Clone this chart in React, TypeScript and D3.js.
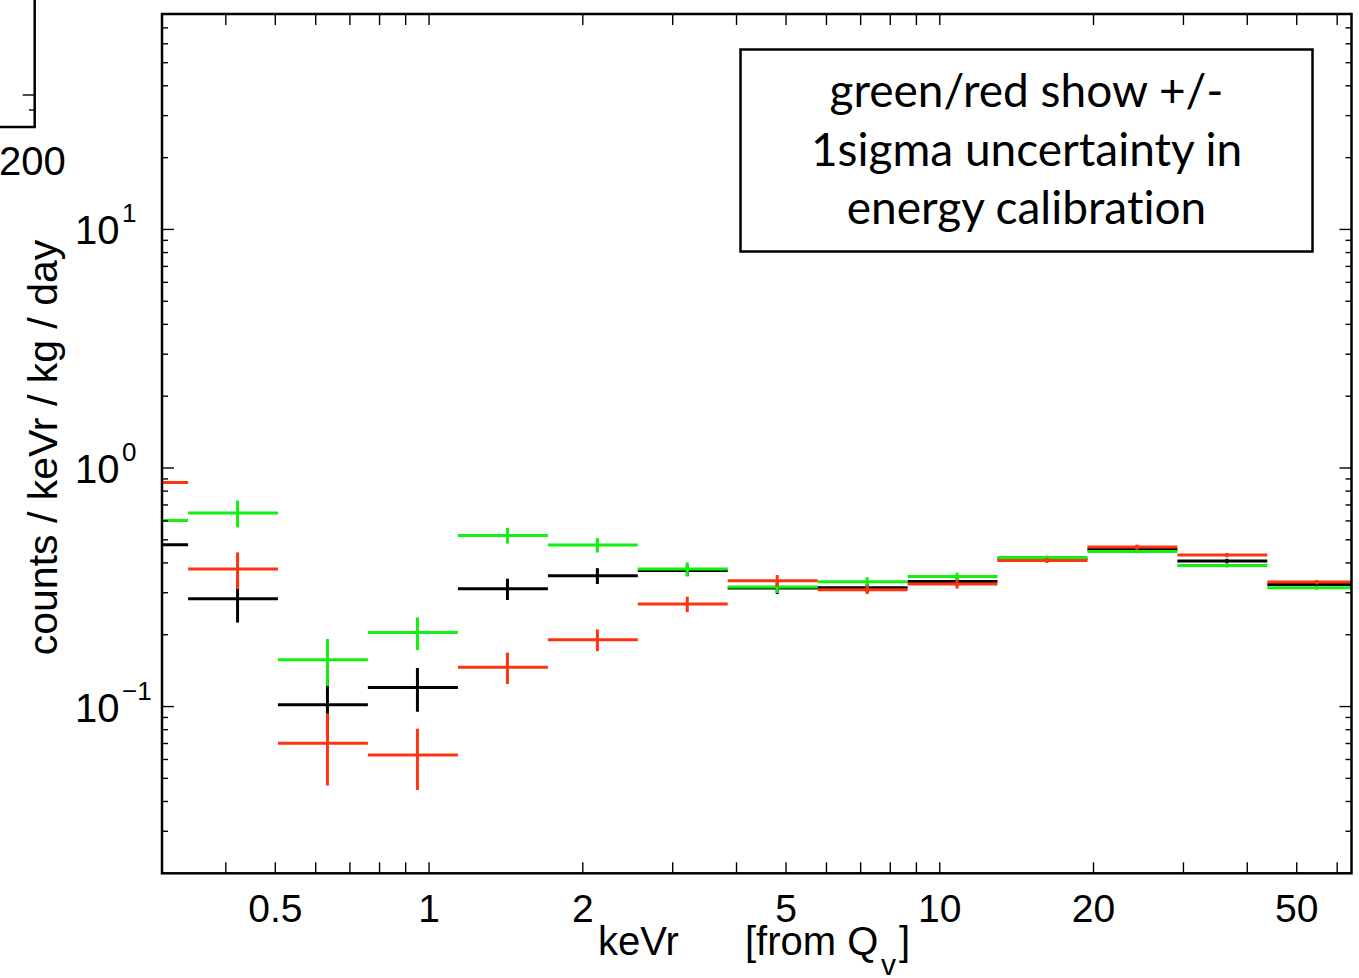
import React from "react";
import * as d3 from "d3";

// Recoil-energy bins (keVr), geometric with ratio 1.5
const binEdges = [0.225, 0.3375, 0.506, 0.759, 1.139, 1.709, 2.563, 3.844, 5.767, 8.65, 12.97, 19.46, 29.19, 43.79, 65.68];

// Nominal energy calibration
const blackRate = [0.477, 0.283, 0.1017, 0.1201, 0.3116, 0.3533, 0.372, 0.3142, 0.3146, 0.3344, 0.4155, 0.4557, 0.4074, 0.3249];
const blackErr = [0.08, 0.058, 0.0277, 0.025, 0.032, 0.027, 0.02, 0.018, 0.014, 0.013, 0.009, 0.009, 0.009, 0.006];
// +1 sigma calibration
const greenRate = [0.603, 0.647, 0.157, 0.2044, 0.5217, 0.4754, 0.377, 0.3168, 0.3336, 0.351, 0.4217, 0.4469, 0.3904, 0.3147];
const greenErr = [0.1, 0.084, 0.035, 0.032, 0.04, 0.033, 0.025, 0.018, 0.015, 0.013, 0.008, 0.008, 0.008, 0.006];
// -1 sigma calibration
const redRate = [0.87, 0.377, 0.0702, 0.0627, 0.1463, 0.1905, 0.2688, 0.337, 0.3088, 0.3262, 0.4097, 0.4662, 0.4315, 0.3325];
const redErr = [0.12, 0.066, 0.0235, 0.018, 0.022, 0.02, 0.02, 0.019, 0.0125, 0.014, 0.01, 0.011, 0.009, 0.007];

const xTickValues = [0.4, 0.5, 0.6, 0.7, 0.8, 0.9, 1, 2, 3, 4, 5, 6, 7, 8, 9, 10, 20, 30, 40, 50, 60];
const xTickLabels = [0.5, 1, 2, 5, 10, 20, 50];
const yMajor = [0.1, 1, 10];
const yMajorExp = ["\u22121", "0", "1"];
const yMinor = [
  0.02, 0.03, 0.04, 0.05, 0.06, 0.07, 0.08, 0.09,
  0.2, 0.3, 0.4, 0.5, 0.6, 0.7, 0.8, 0.9,
  2, 3, 4, 5, 6, 7, 8, 9,
  20, 30, 40, 50, 60, 70, 80,
];

const noteLines = ["green/red show +/-", "1sigma uncertainty in", "energy calibration"];

const W = 1359;
const H = 978;
const left = 162;
const right = 1351.5;
const top = 14;
const bottom = 873.3;

const SANS = "'Liberation Sans', Arial, Helvetica, sans-serif";

export default function App() {
  const x = d3.scaleLog().domain([0.3, 64]).range([left, right]);
  const y = d3.scaleLog().domain([0.02, 80]).range([bottom, top]);

  const series = [
    { name: "nominal", color: "#000000", rate: blackRate, err: blackErr },
    { name: "plus", color: "#12f012", rate: greenRate, err: greenErr },
    { name: "minus", color: "#ff3311", rate: redRate, err: redErr },
  ];

  const bins = d3.range(binEdges.length - 1).map((i) => ({
    lo: binEdges[i],
    hi: binEdges[i + 1],
    mid: (binEdges[i] + binEdges[i + 1]) / 2,
  }));

  return (
    <svg
      width={W}
      height={H}
      viewBox={`0 0 ${W} ${H}`}
      style={{ position: "absolute", left: 0, top: 0, background: "#fff" }}
    >
      <defs>
        <clipPath id="plotArea">
          <rect x={left} y={top} width={right - left} height={bottom - top} />
        </clipPath>
      </defs>

      {/* corner of the neighbouring panel */}
      <g stroke="#000" fill="none">
        <path d="M -2 127 H 34.7 V -2" strokeWidth={2.5} />
        <line x1={22.7} x2={34.7} y1={95} y2={95} strokeWidth={1.4} />
        <line x1={29} x2={34.7} y1={110} y2={110} strokeWidth={1.4} />
      </g>
      <text x={-1} y={175} fontFamily={SANS} fontSize={40} fill="#000">
        200
      </text>

      {/* data: horizontal bar spans the bin, vertical bar the error */}
      <g clipPath="url(#plotArea)" strokeWidth={3} fill="none">
        {series.map((s) => (
          <g key={s.name} stroke={s.color}>
            {bins.map((b, i) => (
              <g key={i}>
                <line x1={x(b.lo)} x2={x(b.hi)} y1={y(s.rate[i])} y2={y(s.rate[i])} />
                <line
                  x1={x(b.mid)}
                  x2={x(b.mid)}
                  y1={y(s.rate[i] + s.err[i])}
                  y2={y(Math.max(s.rate[i] - s.err[i], 1e-4))}
                />
              </g>
            ))}
          </g>
        ))}
      </g>

      {/* axes frame and ticks */}
      <g stroke="#000" fill="none">
        <rect x={left} y={top} width={right - left} height={bottom - top} strokeWidth={2.5} />
        {xTickValues.map((v) => (
          <g key={v} strokeWidth={1.4}>
            <line x1={x(v)} x2={x(v)} y1={bottom} y2={bottom - 11} />
            <line x1={x(v)} x2={x(v)} y1={top} y2={top + 11} />
          </g>
        ))}
        {yMajor.map((v) => (
          <g key={v} strokeWidth={1.4}>
            <line x1={left} x2={left + 12} y1={y(v)} y2={y(v)} />
            <line x1={right} x2={right - 12} y1={y(v)} y2={y(v)} />
          </g>
        ))}
        {yMinor.map((v) => (
          <g key={v} strokeWidth={1.4}>
            <line x1={left} x2={left + 6} y1={y(v)} y2={y(v)} />
            <line x1={right} x2={right - 6} y1={y(v)} y2={y(v)} />
          </g>
        ))}
      </g>

      {/* tick labels */}
      <g fontFamily={SANS} fill="#000">
        {xTickLabels.map((v) => (
          <text key={v} x={x(v)} y={922} fontSize={39} textAnchor="middle">
            {String(v)}
          </text>
        ))}
        {yMajor.map((v, i) => (
          <g key={v}>
            <text x={75} y={y(v) + 15} fontSize={40}>
              10
            </text>
            <text x={122} y={y(v) - 7} fontSize={26}>
              {yMajorExp[i]}
            </text>
          </g>
        ))}
      </g>

      {/* axis titles */}
      <g fontFamily={SANS} fill="#000">
        <text
          transform={`translate(57,447.5) rotate(-90)`}
          textAnchor="middle"
          fontSize={41}
        >
          counts / keVr / kg / day
        </text>
        <text x={598} y={955} fontSize={40}>
          keVr
        </text>
        <text x={745} y={955} fontSize={40}>
          [from Q
        </text>
        <text x={881} y={975} fontSize={30}>
          v
        </text>
        <text x={899} y={955} fontSize={40}>
          ]
        </text>
      </g>

      {/* annotation box */}
      <rect x={740.5} y={49.5} width={572} height={202} fill="none" stroke="#000" strokeWidth={2.5} />
      <g
        fontFamily="Lato, 'Open Sans', sans-serif"
        fontSize={46}
        fill="#000"
        textAnchor="middle"
        style={{ fontVariantLigatures: "none", fontFeatureSettings: "'liga' 0" }}
      >
        {noteLines.map((t, i) => (
          <text key={i} x={1026.5} y={107 + i * 58.5}>
            {t}
          </text>
        ))}
      </g>
    </svg>
  );
}
